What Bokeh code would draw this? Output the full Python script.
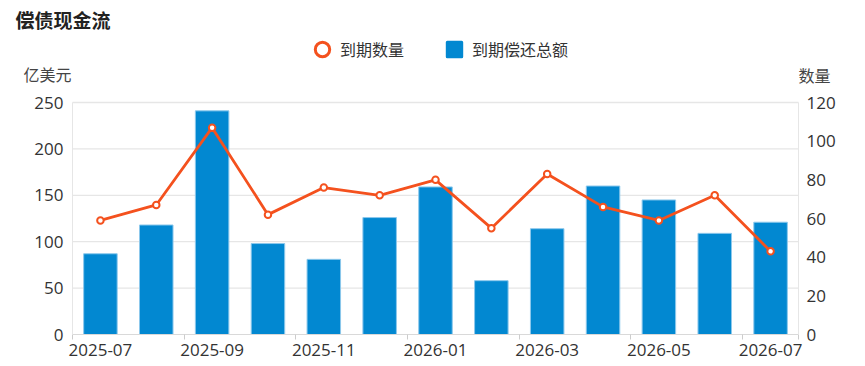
from bokeh.plotting import figure
from bokeh.models import (Range1d, LinearAxis, FixedTicker, Label, Legend, LegendItem,
                          ColumnDataSource)
from bokeh.embed import file_html
from bokeh.resources import INLINE

months = ["2025-07", "2025-08", "2025-09", "2025-10", "2025-11", "2025-12", "2026-01",
          "2026-02", "2026-03", "2026-04", "2026-05", "2026-06", "2026-07"]
repay_total = [87, 118, 241, 98, 81, 126, 159, 58, 114, 160, 145, 109, 121]   # 亿美元
maturity_count = [59, 67, 107, 62, 76, 72, 80, 55, 83, 66, 59, 72, 43]
left_ticks = [0, 50, 100, 150, 200, 250]
right_ticks = [0, 20, 40, 60, 80, 100, 120]
title_text = "偿债现金流"
left_name = "亿美元"
right_name = "数量"
legend_line = "到期数量"
legend_bar = "到期偿还总额"

BLUE = "#0288d1"
ORANGE = "#f4511e"
GRID = "#e6e6e6"
TXT = "#333333"
NUM_FONT = "Open Sans"
CJK_FONT = "Noto Sans CJK SC"

# canvas / plot-area geometry (pixels)
W, H = 865, 366
PL, PR, PT, PB = 72, 798, 102, 334

n = len(months)
xs = [i + 0.5 for i in range(n)]
src = ColumnDataSource(dict(x=xs, month=months, total=repay_total, count=maturity_count))

ymax_l = left_ticks[-1]
ymax_r = right_ticks[-1]
kx = (PR - PL) / n
ky_l = (PB - PT) / ymax_l
ky_r = (PB - PT) / ymax_r

p = figure(width=W, height=H, output_backend="svg", toolbar_location=None,
           x_range=Range1d(-PL / kx, n + (W - PR) / kx),
           y_range=Range1d(-(H - PB) / ky_l, ymax_l + PT / ky_l),
           min_border=0, x_axis_location=None, y_axis_location=None)
p.extra_y_ranges = {"count": Range1d(-(H - PB) / ky_r, ymax_r + PT / ky_r)}
p.outline_line_color = None
p.background_fill_color = "white"
p.border_fill_color = "white"
p.xgrid.visible = False
p.ygrid.visible = False

# horizontal grid lines (plot area only)
gl = left_ticks[1:]
p.segment(x0=[0] * len(gl), x1=[n] * len(gl), y0=gl, y1=gl,
          line_color=GRID, line_width=1.3)

# axes, fixed at the plot-area edges
xaxis = LinearAxis(fixed_location=0, bounds=(0, n),
                   ticker=FixedTicker(ticks=xs[::2], minor_ticks=list(range(0, n, 2)) + [n]))
xaxis.major_label_overrides = {xs[i]: months[i] for i in range(0, n, 2)}
xaxis.major_tick_line_color = None
xaxis.major_tick_in = 0
xaxis.major_tick_out = 0
xaxis.minor_tick_line_color = "#cccccc"
xaxis.minor_tick_in = 0
xaxis.minor_tick_out = 5
xaxis.axis_line_color = "#d9d9d9"
xaxis.major_label_standoff = 4
xaxis.major_label_text_font = NUM_FONT
xaxis.major_label_text_font_size = "17px"
xaxis.major_label_text_color = TXT
p.add_layout(xaxis, "below")

yaxis = LinearAxis(fixed_location=0, bounds=(0, ymax_l), ticker=FixedTicker(ticks=left_ticks))
yaxis.major_tick_line_color = None
yaxis.minor_tick_line_color = None
yaxis.major_tick_out = 0
yaxis.major_tick_in = 0
yaxis.axis_line_color = GRID
yaxis.major_label_standoff = 9
yaxis.major_label_text_font = NUM_FONT
yaxis.major_label_text_font_size = "17px"
yaxis.major_label_text_color = TXT
p.add_layout(yaxis, "left")

yaxis2 = LinearAxis(y_range_name="count", fixed_location=n, bounds=(0, ymax_r),
                    ticker=FixedTicker(ticks=right_ticks))
yaxis2.major_tick_line_color = None
yaxis2.minor_tick_line_color = None
yaxis2.major_tick_out = 0
yaxis2.major_tick_in = 0
yaxis2.axis_line_color = GRID
yaxis2.major_label_standoff = 8
yaxis2.major_label_text_font = NUM_FONT
yaxis2.major_label_text_font_size = "17px"
yaxis2.major_label_text_color = TXT
p.add_layout(yaxis2, "right")

# data
p.vbar(x="x", top="total", width=0.6, bottom=0, source=src,
       fill_color=BLUE, line_color="#8cc8ec", line_width=1)
p.line(x="x", y="count", source=src, y_range_name="count", line_color=ORANGE, line_width=2.8)
p.scatter(x="x", y="count", source=src, y_range_name="count", marker="circle", size=6.5,
          fill_color="white", line_color=ORANGE, line_width=2)

# legend icons (renderers hold a single NaN point, so nothing is drawn in the chart)
nan = float("nan")
dummy_pt = p.scatter(x=[nan], y=[nan], marker="circle", fill_color="white",
                     line_color=ORANGE, line_width=3)
dummy_sq = p.scatter(x=[nan], y=[nan], marker="square", fill_color=BLUE,
                     line_color=BLUE, line_width=3, line_join="round")

leg = Legend(items=[LegendItem(label=legend_line, renderers=[dummy_pt]),
                    LegendItem(label=legend_bar, renderers=[dummy_sq])],
             location=(304, H - 67), orientation="horizontal",
             glyph_width=36, glyph_height=36, label_standoff=0, spacing=32,
             padding=0, margin=0, border_line_color=None, background_fill_alpha=0,
             label_text_font=CJK_FONT, label_text_font_size="16px", label_text_color=TXT)
p.add_layout(leg)

# title and axis names
p.add_layout(Label(x=15, y=H - 18.5, x_units="screen", y_units="screen", text=title_text,
                   text_font=CJK_FONT, text_font_size="19px", text_font_style="bold",
                   text_color="#222222", text_baseline="middle"))
p.add_layout(Label(x=23, y=H - 73.5, x_units="screen", y_units="screen", text=left_name,
                   text_font=CJK_FONT, text_font_size="16px", text_color="#444444",
                   text_baseline="middle"))
p.add_layout(Label(x=798, y=H - 74, x_units="screen", y_units="screen", text=right_name,
                   text_font=CJK_FONT, text_font_size="16px", text_color="#444444",
                   text_baseline="middle"))

open("out.html", "w").write(file_html(p, INLINE))
